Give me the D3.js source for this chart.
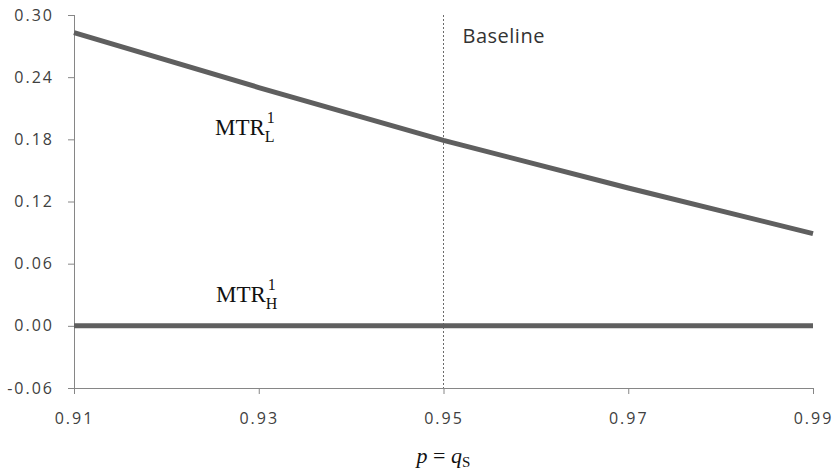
<!DOCTYPE html>
<html>
<head>
<meta charset="utf-8">
<script src="https://cdn.jsdelivr.net/npm/d3@7"></script>
<style>
  html, body { margin: 0; padding: 0; background: #fff; }
  svg { display: block; }
</style>
</head>
<body>
<script>
// Probability grid and marginal tax rates for the low and high types
const pValues = [0.91, 0.93, 0.95, 0.97, 0.99];
const mtrLow = [0.283, 0.230, 0.179, 0.133, 0.089];
const mtrHigh = [0.0, 0.0, 0.0, 0.0, 0.0];
const baselineP = 0.95;
const xTicks = [0.91, 0.93, 0.95, 0.97, 0.99];
const yTicks = [-0.06, 0.00, 0.06, 0.12, 0.18, 0.24, 0.30];

const W = 833, H = 471;
const margin = { top: 15, right: 20, bottom: 83, left: 74 };

const svg = d3.select("body").append("svg")
  .attr("width", W).attr("height", H);

const x = d3.scaleLinear().domain([0.91, 0.99]).range([margin.left, W - margin.right]);
const y = d3.scaleLinear().domain([-0.06, 0.30]).range([H - margin.bottom, margin.top]);

const axisColor = "#868686";
const labelColor = "#404040";
const sansFont = "'Open Sans', sans-serif";
const fmt = d => d3.format(".2f")(d).replace("\u2212", "-");

// Y axis
const yAxis = svg.append("g")
  .attr("transform", `translate(${margin.left},0)`)
  .call(d3.axisLeft(y).tickValues(yTicks).tickSize(6).tickPadding(14).tickFormat(fmt));
yAxis.select(".domain").attr("stroke", axisColor).attr("d", `M0.5,${y(0.30)}V${y(-0.06)}`);
yAxis.selectAll(".tick line").attr("stroke", axisColor);
yAxis.selectAll(".tick text")
  .attr("fill", labelColor)
  .style("font-family", sansFont)
  .style("font-size", "16px")
  .style("letter-spacing", "2px");

// X axis
const xAxis = svg.append("g")
  .attr("transform", `translate(0,${y(-0.06)})`)
  .call(d3.axisBottom(x).tickValues(xTicks).tickSize(6).tickPadding(19).tickFormat(fmt));
xAxis.select(".domain").attr("stroke", axisColor).attr("d", `M${x(0.91)},0.5H${x(0.99)}`);
xAxis.selectAll(".tick line").attr("stroke", axisColor);
xAxis.selectAll(".tick text")
  .attr("fill", labelColor)
  .style("font-family", sansFont)
  .style("font-size", "16px")
  .style("letter-spacing", "2px");

// Baseline marker
svg.append("line")
  .attr("x1", x(baselineP)).attr("x2", x(baselineP))
  .attr("y1", y(0.30)).attr("y2", y(-0.06))
  .attr("stroke", "#6b6b6b")
  .attr("stroke-width", 1)
  .attr("stroke-dasharray", "2,2");

svg.append("text")
  .attr("x", x(baselineP) + 19).attr("y", 43)
  .attr("fill", "#333")
  .style("font-family", sansFont)
  .style("font-size", "20px")
  .style("letter-spacing", "0.5px")
  .text("Baseline");

// Series lines
const line = d3.line().x((d, i) => x(pValues[i])).y(d => y(d));
[mtrLow, mtrHigh].forEach(series => {
  svg.append("path")
    .datum(series)
    .attr("d", line)
    .attr("fill", "none")
    .attr("stroke", "#5f5f5f")
    .attr("stroke-width", 5);
});

// Series labels: MTR with stacked superscript and subscript
function mtrLabel(xPos, yBase, sub) {
  const g = svg.append("g").style("font-family", "'Liberation Serif', 'Times New Roman', serif")
    .attr("fill", "#111");
  const t = g.append("text").attr("x", xPos).attr("y", yBase)
    .style("font-size", "23px").text("MTR");
  const w = t.node().getComputedTextLength();
  g.append("text").attr("x", xPos + w + 2).attr("y", yBase - 12)
    .style("font-size", "16px").text("1");
  g.append("text").attr("x", xPos + w).attr("y", yBase + 7)
    .style("font-size", "16px").text(sub);
}
mtrLabel(215, 135, "L");
mtrLabel(216, 302, "H");

// X axis title: p = q_S
const title = svg.append("text")
  .attr("x", x(baselineP)).attr("y", 463)
  .attr("text-anchor", "middle")
  .attr("fill", "#111")
  .style("font-family", "'Liberation Serif', 'Times New Roman', serif")
  .style("font-size", "22px");
title.append("tspan").style("font-style", "italic").text("p");
title.append("tspan").text(" = ");
title.append("tspan").style("font-style", "italic").text("q");
title.append("tspan").attr("dy", 4).style("font-size", "15px").text("S");
</script>
</body>
</html>
